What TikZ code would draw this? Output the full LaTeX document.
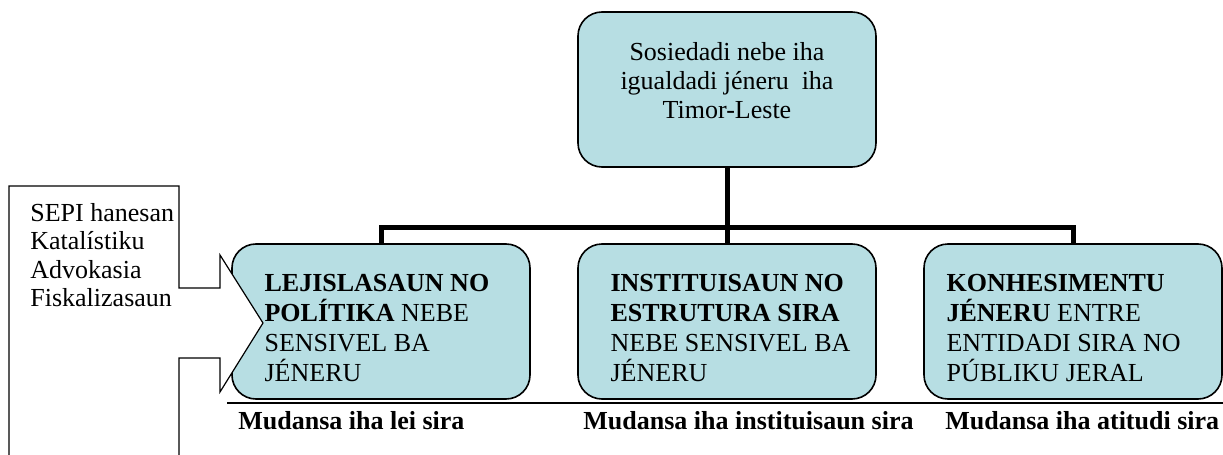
\documentclass[tikz,border=0pt]{standalone}
\usepackage{fontspec}
\setmainfont{Liberation Serif}
\usetikzlibrary{positioning,calc}
\definecolor{boxfill}{RGB}{183,222,227}
\tikzset{
  box/.style={draw, line width=0.8pt, fill=boxfill, rounded corners=12pt,
    minimum width=149pt, minimum height=77.5pt, inner sep=0pt},
  boxtext/.style={anchor=north west, inner sep=0pt, align=left,
    font=\fontsize{13}{15}\selectfont},
  link/.style={line width=2.5pt},
  callout/.style={draw, fill=white, line width=0.6pt},
  result/.style={anchor=base west, inner sep=0pt, font=\fontsize{13}{15}\selectfont\bfseries}
}

\begin{document}
\begin{tikzpicture}[x=0.5pt,y=-0.5pt]
\useasboundingbox (0,0) rectangle (1223,455);
% goal on top
\node[box, align=center, text depth=9.5pt,
  font=\fontsize{13}{14.5}\selectfont] (goal) at (727,89.5)
  {Sosiedadi nebe iha\\ igualdadi jéneru\ \ iha\\ Timor-Leste};
% three areas
\node[box] (lei) at (381,321.5) {};
\node[box] (inst) at (727,321.5) {};
\node[box] (kon) at (1073,321.5) {};
\node[boxtext, below right=15.4pt and 16.5pt of lei.north west] (leitext)
  {\textbf{LEJISLASAUN NO}\\ \textbf{POLÍTIKA} NEBE\\ SENSIVEL BA\\ JÉNERU};
\node[boxtext, below right=15.4pt and 16.5pt of inst.north west] (insttext)
  {\textbf{INSTITUISAUN NO}\\ \textbf{ESTRUTURA SIRA}\\ NEBE SENSIVEL BA\\ JÉNERU};
\node[boxtext, below right=15.4pt and 11.5pt of kon.north west] (kontext)
  {\textbf{KONHESIMENTU}\\ \textbf{JÉNERU} ENTRE\\ ENTIDADI SIRA NO\\ PÚBLIKU JERAL};
% tree
\coordinate (bar) at (727,227);
\draw[link] (lei.north) |- (bar) -| (kon.north);
\draw[link] (goal.south) -- (inst.north);
% callout on the left
\draw[callout] (9,455) -- (9,186) -- (179,186) -- (179,288) -- (220,288)
  -- (220,255) -- (263,323) -- (220,392) -- (220,358) -- (179,358) -- (179,455);
\node[boxtext, font=\fontsize{13}{14.25}\selectfont] (sepi) at (30,203)
  {SEPI hanesan\\ Katalístiku\\ Advokasia\\ Fiskalizasaun};
% results
\draw[line width=1pt] (227,403) -- (1223,403);
\node[result] (leiresult) at (238,429) {Mudansa iha lei sira};
\node[result] (instresult) at (583,429) {Mudansa iha instituisaun sira};
\node[result] (konresult) at (945,429) {Mudansa iha atitudi sira};
\end{tikzpicture}
\end{document}
